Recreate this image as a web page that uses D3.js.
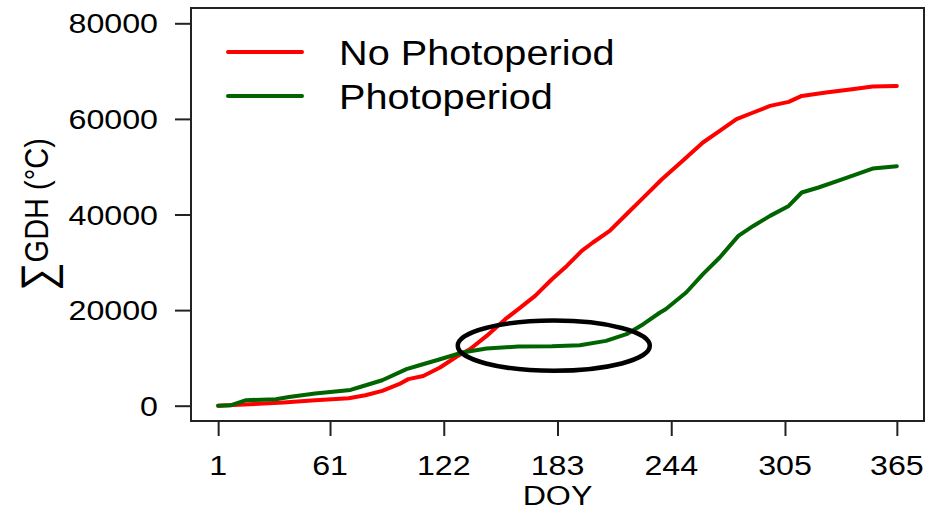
<!DOCTYPE html>
<html>
<head>
<meta charset="utf-8">
<script src="https://cdn.jsdelivr.net/npm/d3@7"></script>
<style>
  html, body { margin: 0; padding: 0; background: #fff; }
  svg { display: block; }
  text { font-family: "Liberation Sans", Arial, sans-serif; fill: #000; }
</style>
</head>
<body>
<svg id="chart" width="929" height="511"></svg>
<script>
// Cumulative growing degree hours over the year, with and without photoperiod control
const noPhotoDay = [1, 9, 18, 36, 53, 71, 80, 89, 98, 103, 111, 120, 129, 136, 145, 155, 162, 171, 180, 188,
  196, 202, 211, 220, 230, 239, 250, 261, 270, 279, 288, 297, 307, 314, 327, 341, 352, 365];
const noPhotoGDH = [0, 150, 310, 670, 1150, 1570, 2200, 3100, 4500, 5560, 6230, 8000, 10290, 11820, 14600, 18100, 20190, 22970, 26460, 29250,
  32380, 34140, 36570, 40060, 43890, 47380, 51210, 55060, 57490, 59940, 61340, 62720, 63560, 64810, 65520, 66210, 66780, 66900];

const photoDay = [1, 8, 16, 32, 39, 53, 72, 78, 89, 102, 109, 120, 132, 145, 162, 180, 195, 209, 220, 229,
  238, 241, 252, 261, 270, 280, 288, 297, 307, 314, 323, 336, 352, 365];
const photoGDH = [0, 100, 1150, 1360, 1840, 2550, 3300, 4020, 5330, 7640, 8470, 9720, 11130, 11970, 12380, 12420, 12660, 13560, 14960, 17050,
  19500, 20190, 23680, 27510, 31000, 35520, 37610, 39710, 41800, 44600, 45650, 47380, 49620, 50100];

const seriesNames = ["No Photoperiod", "Photoperiod"];
const seriesColors = ["#ff0000", "#006400"];

const xTicks = [1, 61, 122, 183, 244, 305, 365];
const yTicks = [0, 20000, 40000, 60000, 80000];

// highlighted plateau: centre (day, GDH) and half-widths (days, GDH)
const plateauCenter = [181, 12550];
const plateauRadius = [51.5, 5250];

const svg = d3.select("#chart");
const box = { left: 191, right: 924, top: 8, bottom: 421 };
const sx = 1.15; // horizontal glyph stretch

// R-style 4% padded domains
const x = d3.scaleLinear().domain([1 - 364 * 0.04, 365 + 364 * 0.04]).range([box.left, box.right]);
const y = d3.scaleLinear().domain([-3200, 83200]).range([box.bottom, box.top]);

function label(g, str, px, py, size, anchor, rot) {
  return g.append("text")
    .attr("transform", `translate(${px},${py}) scale(${sx},1)` + (rot ? ` rotate(${rot})` : ""))
    .attr("text-anchor", anchor)
    .style("font-size", size + "px")
    .text(str);
}

// axes
const yAxis = d3.axisLeft(y).tickValues(yTicks).tickSize(16).tickFormat("");
svg.append("g").attr("transform", `translate(${box.left},0)`).call(yAxis)
  .call(g => g.select(".domain").remove())
  .call(g => g.selectAll("line").attr("stroke", "#222").attr("stroke-width", 2));
const xAxis = d3.axisBottom(x).tickValues(xTicks).tickSize(15).tickFormat("");
svg.append("g").attr("transform", `translate(0,${box.bottom})`).call(xAxis)
  .call(g => g.select(".domain").remove())
  .call(g => g.selectAll("line").attr("stroke", "#222").attr("stroke-width", 2));

const labels = svg.append("g");
yTicks.forEach(v => label(labels, String(v), 158, y(v) + 10, 28, "end"));
xTicks.forEach(v => label(labels, String(v), x(v), 475, 28, "middle"));
label(labels, "DOY", (box.left + box.right) / 2, 505, 28, "middle");

// y title: summation sign followed by GDH (°C), reading upward
const yMid = (box.top + box.bottom) / 2;
const yt = svg.append("g");
yt.append("text")
  .attr("transform", `translate(48,${yMid}) scale(${sx},1) rotate(-90)`)
  .attr("text-anchor", "middle")
  .style("font-size", "29px")
  .call(t => {
    t.append("tspan").style("font-size", "40px").attr("dy", "4").text("\u2211");
    t.append("tspan").attr("dy", "-4").text("GDH (\u00B0C)");
  });

// plot frame
svg.append("rect")
  .attr("x", box.left).attr("y", box.top)
  .attr("width", box.right - box.left).attr("height", box.bottom - box.top)
  .attr("fill", "none").attr("stroke", "#222").attr("stroke-width", 2);

// series
const line = d3.line().x(d => x(d[0])).y(d => y(d[1]));
const series = [
  d3.zip(noPhotoDay, noPhotoGDH),
  d3.zip(photoDay, photoGDH)
];
series.forEach((pts, i) => {
  svg.append("path").datum(pts)
    .attr("d", line)
    .attr("fill", "none")
    .attr("stroke", seriesColors[i])
    .attr("stroke-width", 4)
    .attr("stroke-linejoin", "round")
    .attr("stroke-linecap", "round");
});

// plateau annotation
svg.append("ellipse")
  .attr("cx", x(plateauCenter[0])).attr("cy", y(plateauCenter[1]))
  .attr("rx", x(plateauCenter[0] + plateauRadius[0]) - x(plateauCenter[0]))
  .attr("ry", y(plateauCenter[1] - plateauRadius[1]) - y(plateauCenter[1]))
  .attr("fill", "none").attr("stroke", "#000").attr("stroke-width", 4.5);

// legend
const lg = svg.append("g");
seriesNames.forEach((name, i) => {
  const ly = 52 + i * 44;
  lg.append("line").attr("x1", 228).attr("x2", 302).attr("y1", ly).attr("y2", ly)
    .attr("stroke", seriesColors[i]).attr("stroke-width", 4).attr("stroke-linecap", "round");
  label(lg, name, 339, ly + 12.5, 34.5, "start");
});
</script>
</body>
</html>
